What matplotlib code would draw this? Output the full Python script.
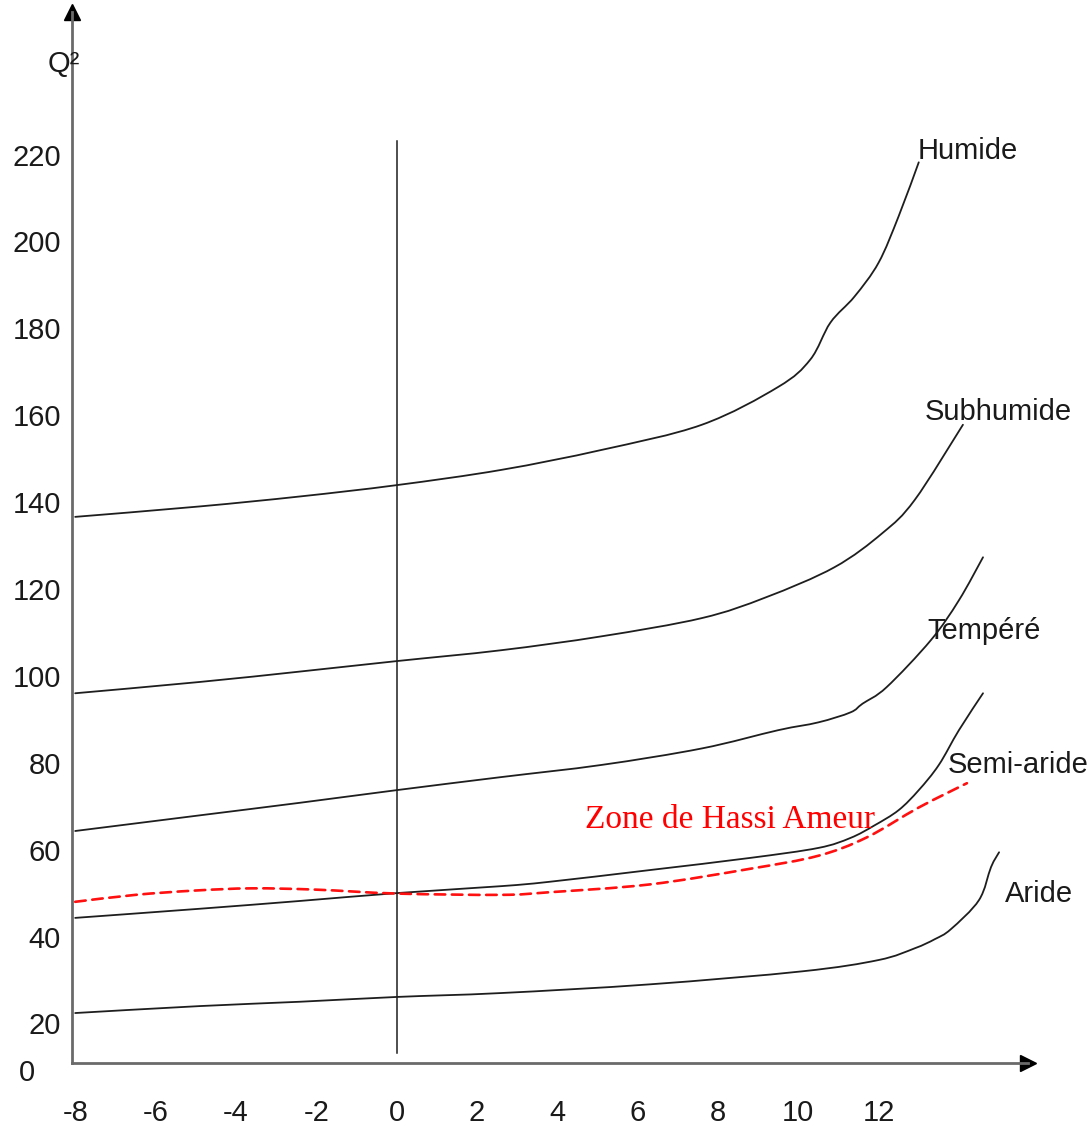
import matplotlib
matplotlib.use("Agg")
import matplotlib.pyplot as plt
from matplotlib import font_manager
from matplotlib.path import Path
from matplotlib.patches import PathPatch

# ---------------- data ----------------
x_ticks = [-8, -6, -4, -2, 0, 2, 4, 6, 8, 10, 12]
y_ticks = [20, 40, 60, 80, 100, 120, 140, 160, 180, 200, 220]

humide_x = [-8.0, -4.9, -2.4, 0.0, 2.6, 5.1, 7.6, 9.5, 10.3, 10.8, 11.4, 12.0, 12.5, 13.0]
humide_y = [136.6, 139.0, 141.3, 143.9, 147.4, 152.0, 157.8, 166.5, 172.8, 181.3, 187.3, 195.1, 205.8, 218.2]

subhumide_x = [-8.0, -4.9, -2.4, 0.0, 2.6, 5.1, 7.6, 9.2, 10.9, 12.1, 12.9, 14.1]
subhumide_y = [96.0, 98.6, 101.0, 103.4, 105.9, 109.1, 113.3, 118.1, 125.0, 132.9, 140.5, 157.8]

tempere_x = [-8.0, -4.9, -2.4, 0.0, 2.6, 5.1, 7.6, 9.5, 10.5, 11.3, 11.6, 12.2, 13.3, 14.0, 14.6]
tempere_y = [64.3, 67.9, 70.8, 73.7, 76.7, 79.5, 83.3, 87.5, 89.3, 91.6, 93.6, 97.4, 108.2, 117.4, 127.3]

semiaride_x = [-8.0, -4.9, -2.4, 0.0, 2.6, 3.8, 6.3, 8.8, 10.5, 11.3, 11.9, 12.5, 13.0, 13.5, 14.0, 14.6]
semiaride_y = [44.3, 46.4, 48.2, 50.0, 51.6, 52.6, 55.3, 58.1, 60.4, 62.7, 65.6, 69.1, 73.7, 79.5, 87.5, 96.0]

aride_x = [-8.0, -4.9, -2.4, 0.0, 2.6, 6.3, 10.1, 12.0, 12.9, 13.4, 13.8, 14.5, 14.8, 15.0]
aride_y = [22.4, 24.0, 25.0, 26.1, 27.0, 29.0, 32.0, 34.6, 37.3, 39.4, 41.7, 48.4, 56.0, 59.4]

hassi_x = [-8.0, -6.5, -5.0, -3.6, -2.0, 0.0, 2.6, 3.8, 6.3, 8.8, 10.5, 11.7, 13.0, 14.2]
hassi_y = [48.0, 49.6, 50.6, 51.1, 50.8, 49.9, 49.6, 50.2, 52.0, 55.6, 58.6, 62.8, 69.7, 75.3]

vline_x = 0.0
vline_y = [13.2, 223.1]

# ---------------- fonts ----------------
def pick(families, default):
    for f in families:
        try:
            font_manager.findfont(f, fallback_to_default=False)
            return f
        except Exception:
            pass
    return default

sans = pick(["Liberation Sans Narrow"], "Liberation Sans")
narrow = sans == "Liberation Sans Narrow"
fs = 25 if narrow else 21
serif = pick(["Liberation Serif"], "DejaVu Serif")

plt.rcParams['font.family'] = [sans, 'DejaVu Sans']


def smooth_line(ax, xs, ys, **kw):
    """Draw a smooth (Catmull-Rom / Bezier) line through the given points."""
    pts = list(zip(xs, ys))
    n = len(pts)
    verts = [pts[0]]
    codes = [Path.MOVETO]
    for i in range(n - 1):
        p0 = pts[i - 1] if i > 0 else pts[i]
        p1 = pts[i]
        p2 = pts[i + 1]
        p3 = pts[i + 2] if i + 2 < n else pts[i + 1]
        c1 = (p1[0] + (p2[0] - p0[0]) / 6.0, p1[1] + (p2[1] - p0[1]) / 6.0)
        c2 = (p2[0] - (p3[0] - p1[0]) / 6.0, p2[1] - (p3[1] - p1[1]) / 6.0)
        verts += [c1, c2, p2]
        codes += [Path.CURVE4, Path.CURVE4, Path.CURVE4]
    patch = PathPatch(Path(verts, codes), fill=False, capstyle="round", **kw)
    ax.add_patch(patch)
    return patch


# ---------------- figure ----------------
W, H = 1092, 1133
fig = plt.figure(figsize=(W / 100, H / 100), dpi=100)
ax = fig.add_axes([72 / W, 1 - 1063 / H, (1028 - 72) / W, (1063 - 12) / H])
ax.set_xlim(-8.08, 15.72)
ax.set_ylim(10.9, 252.8)

for s in ["top", "right"]:
    ax.spines[s].set_visible(False)
for s in ["left", "bottom"]:
    ax.spines[s].set_color("#6a6a6a")
    ax.spines[s].set_linewidth(2.0)

# arrow heads
ax.plot([0], [1], marker="^", color="black", markersize=11, transform=ax.transAxes, clip_on=False)
ax.plot([1], [0], marker=">", color="black", markersize=11, transform=ax.transAxes, clip_on=False)

ax.set_xticks(x_ticks)
ax.set_xticklabels([str(v) for v in x_ticks])
ax.set_yticks(y_ticks)
ax.set_yticklabels([str(v) for v in y_ticks])
ax.tick_params(axis="both", length=0, labelsize=fs, colors="#1a1a1a")
ax.tick_params(axis="x", pad=26)
ax.tick_params(axis="y", pad=8)

lc = "#1e1e1e"
lw = 1.3
smooth_line(ax, humide_x, humide_y, edgecolor=lc, lw=lw)
smooth_line(ax, subhumide_x, subhumide_y, edgecolor=lc, lw=lw)
smooth_line(ax, tempere_x, tempere_y, edgecolor=lc, lw=lw)
smooth_line(ax, semiaride_x, semiaride_y, edgecolor=lc, lw=lw)
smooth_line(ax, aride_x, aride_y, edgecolor=lc, lw=lw)
ax.plot([vline_x, vline_x], vline_y, color=lc, lw=1.1)
smooth_line(ax, hassi_x, hassi_y, edgecolor="#ff1010", lw=1.9, linestyle=(0, (4, 2.5)))

tc = "#1a1a1a"
ax.text(12.96, 220.8, "Humide", fontsize=fs, color=tc, ha="left", va="center")
ax.text(13.16, 160.7, "Subhumide", fontsize=fs, color=tc, ha="left", va="center")
ax.text(13.21, 110.3, "Tempéré", fontsize=fs, color=tc, ha="left", va="center")
ax.text(13.73, 79.5, "Semi-aride", fontsize=fs, color=tc, ha="left", va="center")
ax.text(15.15, 49.8, "Aride", fontsize=fs, color=tc, ha="left", va="center")
ax.text(4.69, 66.8, "Zone de Hassi Ameur", fontsize=24, color="#ff0000",
        ha="left", va="center", family=[serif, 'DejaVu Serif'])
ax.text(-7.89, 240.8, "Q²", fontsize=fs, color=tc, ha="right", va="center")
ax.text(-9.2, 8.6, "0", fontsize=fs, color=tc, ha="center", va="center", clip_on=False)

fig.savefig("out.png", dpi=100, facecolor="white")
